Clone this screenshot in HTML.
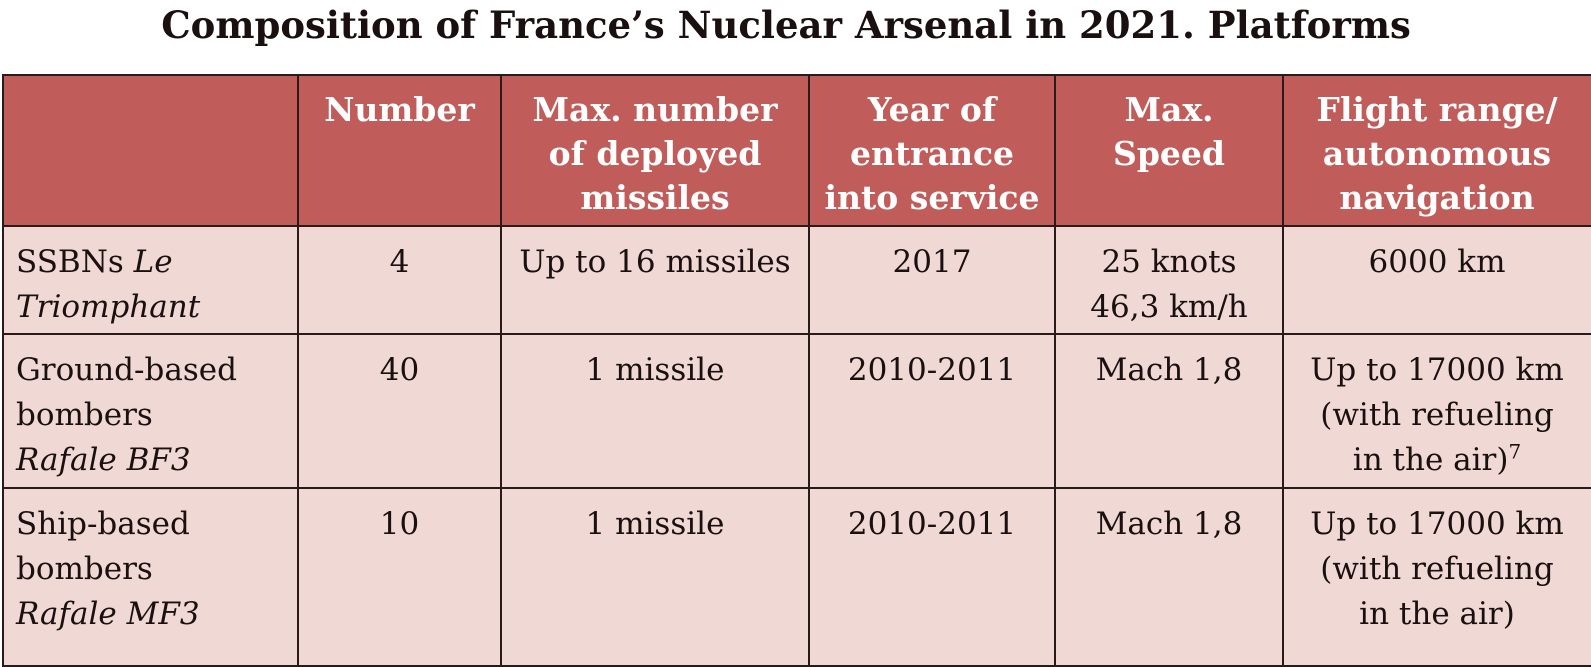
<!DOCTYPE html>
<html><head><style>
body{margin:0;width:1591px;height:648px;overflow:hidden;background:#fff;font-family:"DejaVu Serif","Liberation Serif",serif;position:relative}
.t{position:absolute;top:3px;left:0;width:1572px;text-align:center;font-weight:bold;font-size:37px;color:#1a1010;white-space:nowrap}
.c{position:absolute;box-sizing:border-box;border:2px solid #2a1a1a;text-align:center;overflow:hidden;white-space:nowrap}
.h{background:#c05c5a;color:#fff;font-weight:bold;font-size:33px;line-height:44px;padding-top:12px}
.b{background:#f0d9d5;color:#1a1010;font-size:31px;line-height:45px;padding-top:13px}
.l{text-align:left;padding-left:12px}
</style></head><body>
<div class="t">Composition of France’s Nuclear Arsenal in 2021. Platforms</div>
<div class="c h" style="left:2px;top:74px;width:297px;height:153px"></div>
<div class="c h" style="left:297px;top:74px;width:205px;height:153px">Number</div>
<div class="c h" style="left:500px;top:74px;width:310px;height:153px">Max. number<br>of deployed<br>missiles</div>
<div class="c h" style="left:808px;top:74px;width:248px;height:153px">Year of<br>entrance<br>into service</div>
<div class="c h" style="left:1054px;top:74px;width:230px;height:153px">Max.<br>Speed</div>
<div class="c h" style="left:1282px;top:74px;width:320px;height:153px;padding-right:10px">Flight range/<br>autonomous<br>navigation</div>

<div class="c b l" style="left:2px;top:225px;width:297px;height:110px">SSBNs <i>Le</i><br><i>Triomphant</i></div>
<div class="c b" style="left:297px;top:225px;width:205px;height:110px">4</div>
<div class="c b" style="left:500px;top:225px;width:310px;height:110px">Up to 16 missiles</div>
<div class="c b" style="left:808px;top:225px;width:248px;height:110px">2017</div>
<div class="c b" style="left:1054px;top:225px;width:230px;height:110px">25 knots<br>46,3 km/h</div>
<div class="c b" style="left:1282px;top:225px;width:320px;height:110px;padding-right:10px">6000 km</div>

<div class="c b l" style="left:2px;top:333px;width:297px;height:156px">Ground-based<br>bombers<br><i>Rafale BF3</i></div>
<div class="c b" style="left:297px;top:333px;width:205px;height:156px">40</div>
<div class="c b" style="left:500px;top:333px;width:310px;height:156px">1 missile</div>
<div class="c b" style="left:808px;top:333px;width:248px;height:156px">2010-2011</div>
<div class="c b" style="left:1054px;top:333px;width:230px;height:156px">Mach 1,8</div>
<div class="c b" style="left:1282px;top:333px;width:320px;height:156px;padding-right:10px">Up to 17000 km<br>(with refueling<br>in the air)<sup style="font-size:20px;line-height:0">7</sup></div>

<div class="c b l" style="left:2px;top:487px;width:297px;height:180px">Ship-based<br>bombers<br><i>Rafale MF3</i></div>
<div class="c b" style="left:297px;top:487px;width:205px;height:180px">10</div>
<div class="c b" style="left:500px;top:487px;width:310px;height:180px">1 missile</div>
<div class="c b" style="left:808px;top:487px;width:248px;height:180px">2010-2011</div>
<div class="c b" style="left:1054px;top:487px;width:230px;height:180px">Mach 1,8</div>
<div class="c b" style="left:1282px;top:487px;width:320px;height:180px;padding-right:10px">Up to 17000 km<br>(with refueling<br>in the air)</div>
</body></html>
